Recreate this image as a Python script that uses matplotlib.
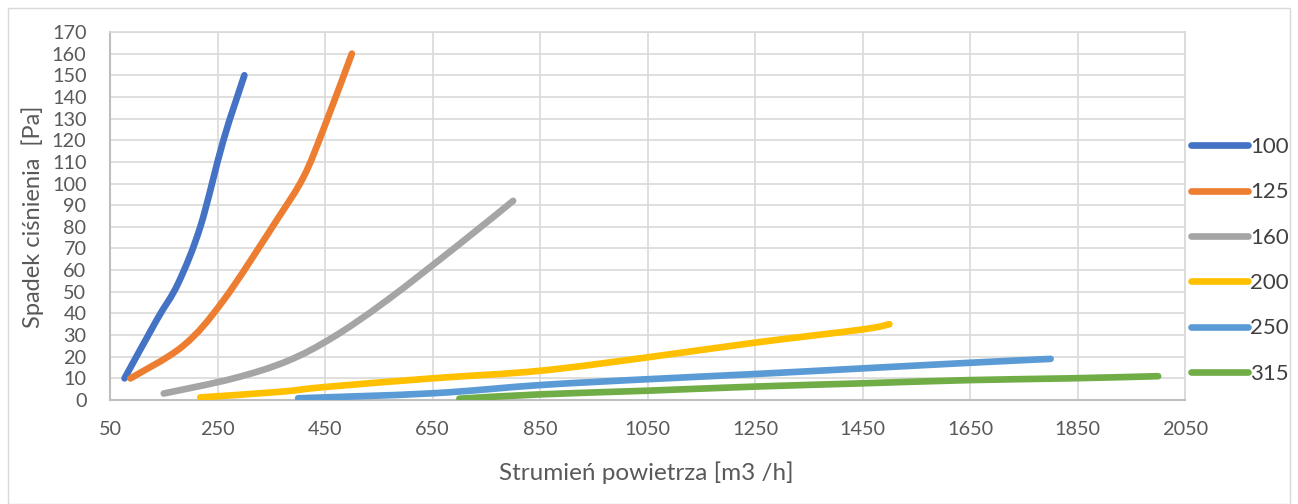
import matplotlib
matplotlib.use("Agg")
import matplotlib.pyplot as plt
from matplotlib.patches import Rectangle, PathPatch
from matplotlib.path import Path
from matplotlib.lines import Line2D

plt.rcParams['font.family'] = ['Lato', 'DejaVu Sans']

# Data
labels = ["100", "125", "160", "200", "250", "315"]
colors = ["#4472C4", "#ED7D31", "#A5A5A5", "#FFC000", "#5B9BD5", "#70AD47"]

x_100 = [77, 137, 177, 218, 261, 300]
y_100 = [10, 37, 54, 80, 120, 150]

x_125 = [88, 186, 261, 360, 410, 447, 500]
y_125 = [10, 25, 46, 83, 103, 125, 160]

x_160 = [150, 280, 380, 465, 565, 700, 800]
y_160 = [3, 10, 18, 29, 46, 72, 92]

x_200 = [218, 367, 450, 650, 850, 1050, 1250, 1450, 1500]
y_200 = [1.2, 3.8, 6, 10, 13.5, 19.7, 26.5, 32.6, 35]

x_250 = [400, 650, 850, 1050, 1250, 1450, 1650, 1800]
y_250 = [0.8, 3.1, 6.9, 9.6, 12, 14.6, 17.2, 19]

x_315 = [700, 850, 1050, 1250, 1450, 1650, 1836, 2000]
y_315 = [0.6, 2.6, 4.3, 6.2, 7.7, 9.2, 10, 11]

xs = [x_100, x_125, x_160, x_200, x_250, x_315]
ys = [y_100, y_125, y_160, y_200, y_250, y_315]

x_ticks = list(range(50, 2051, 200))
y_ticks = list(range(0, 171, 10))


def smooth_path(x, y):
    """Excel-style smoothed line: cubic Bezier segments through the data points."""
    pts = list(zip(x, y))
    n = len(pts)
    verts = [pts[0]]
    codes = [Path.MOVETO]
    for i in range(n - 1):
        p0 = pts[i - 1] if i > 0 else pts[i]
        p1 = pts[i]
        p2 = pts[i + 1]
        p3 = pts[i + 2] if i + 2 < n else pts[i + 1]
        c1 = (p1[0] + (p2[0] - p0[0]) / 6, p1[1] + (p2[1] - p0[1]) / 6)
        c2 = (p2[0] - (p3[0] - p1[0]) / 6, p2[1] - (p3[1] - p1[1]) / 6)
        verts += [c1, c2, p2]
        codes += [Path.CURVE4] * 3
    return Path(verts, codes)


fig = plt.figure(figsize=(12.98, 5.04), dpi=100)
ax = fig.add_axes([110/1298, 1-400/504, (1185-110)/1298, (400-32)/504])

LW = 4.8
handles = []
for x, y, c, lab in zip(xs, ys, colors, labels):
    patch = PathPatch(smooth_path(x, y), facecolor='none', edgecolor=c, lw=LW,
                      capstyle='round', joinstyle='round', zorder=3)
    ax.add_patch(patch)
    handles.append(Line2D([], [], color=c, lw=LW, solid_capstyle='round', label=lab))

ax.set_xlim(50, 2050)
ax.set_ylim(0, 170)
ax.set_xticks(x_ticks)
ax.set_yticks(y_ticks)
ax.grid(True, color='#d9d9d9', lw=1.2)
ax.set_axisbelow(True)
for s in ['top', 'right']:
    ax.spines[s].set_color('#d9d9d9')
    ax.spines[s].set_linewidth(1.2)
for s in ['left', 'bottom']:
    ax.spines[s].set_color('#bfbfbf')
    ax.spines[s].set_linewidth(1.5)
ax.tick_params(axis='both', length=0, labelsize=14.3, labelcolor='#595959')
ax.tick_params(axis='x', pad=15)
ax.tick_params(axis='y', pad=17)

fig.text(646/1298, 1-473/504, "Strumień powietrza [m3 /h]", ha='center', va='center',
         fontsize=17.5, color='#595959')
fig.text(33/1298, 1-217/504, "Spadek ciśnienia  [Pa]", ha='center', va='center',
         rotation=90, fontsize=17, color='#595959')

leg = fig.legend(handles=handles, loc='upper left', bbox_to_anchor=(1191/1298, 1-137/504),
                 frameon=False, fontsize=16, handlelength=2.55, handletextpad=0.1,
                 labelspacing=1.14, borderaxespad=0, borderpad=0)
for t in leg.get_texts():
    t.set_color('#404040')

fig.patches.append(Rectangle((8/1298, 0.0), 1-16/1298, 1-8/504, transform=fig.transFigure,
                             fill=False, edgecolor='#d9d9d9', lw=1))

fig.savefig("out.png", dpi=100)
